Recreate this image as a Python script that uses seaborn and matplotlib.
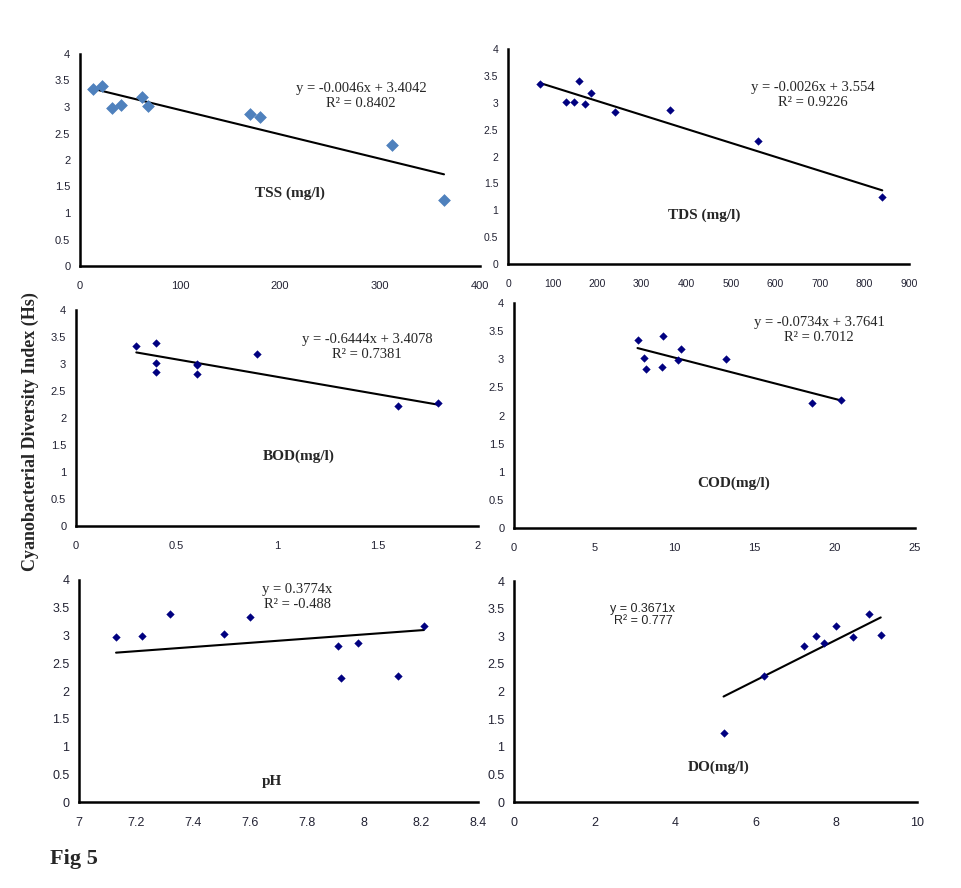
import pandas as pd
import matplotlib.pyplot as plt
from matplotlib.ticker import MultipleLocator, FuncFormatter
import seaborn as sns

# --------------------------------------------------------
# DATOS: indice de diversidad (Hs) vs parametros del agua
# --------------------------------------------------------
tss_x = [13, 22, 32, 41, 62, 68, 170, 180, 312, 364]
tss_y = [3.34, 3.40, 2.98, 3.03, 3.18, 3.01, 2.87, 2.81, 2.28, 1.25]
tds_x = [71, 130, 148, 159, 173, 187, 240, 363, 561, 840]
tds_y = [3.35, 3.02, 3.01, 3.40, 2.98, 3.19, 2.82, 2.87, 2.29, 1.25]
bod_x = [0.3, 0.4, 0.4, 0.4, 0.6, 0.6, 0.6, 0.9, 1.6, 1.8]
bod_y = [3.34, 3.39, 3.02, 2.86, 3.00, 2.98, 2.81, 3.18, 2.23, 2.27]
cod_x = [7.7, 8.1, 8.2, 9.2, 9.3, 10.2, 10.4, 13.2, 18.6, 20.4]
cod_y = [3.35, 3.03, 2.82, 2.87, 3.41, 2.99, 3.19, 3.01, 2.23, 2.28]
ph_x = [7.13, 7.22, 7.32, 7.51, 7.60, 7.91, 7.92, 7.98, 8.12, 8.21]
ph_y = [2.98, 3.00, 3.39, 3.02, 3.34, 2.81, 2.23, 2.86, 2.27, 3.18]
do_x = [5.2, 6.2, 7.2, 7.5, 7.7, 8.0, 8.4, 8.8, 9.1]
do_y = [1.24, 2.28, 2.82, 3.01, 2.88, 3.19, 2.99, 3.40, 3.03]

# Lineas de tendencia (pendiente, intercepto) y sus etiquetas
slopes = [-0.0046, -0.0026, -0.6444, -0.0734, 0.3774, 0.3671]
intercepts = [3.4042, 3.554, 3.4078, 3.7641, 0.0, 0.0]
equations = ['y = -0.0046x + 3.4042\nR² = 0.8402',
             'y = -0.0026x + 3.554\nR² = 0.9226',
             'y = -0.6444x + 3.4078\nR² = 0.7381',
             'y = -0.0734x + 3.7641\nR² = 0.7012',
             'y = 0.3774x\nR² = -0.488',
             'y = 0.3671x\nR² = 0.777']
labels = ['TSS (mg/l)', 'TDS (mg/l)', 'BOD(mg/l)', 'COD(mg/l)', 'pH', 'DO(mg/l)']
xs = [tss_x, tds_x, bod_x, cod_x, ph_x, do_x]
ys = [tss_y, tds_y, bod_y, cod_y, ph_y, do_y]

# --------------------------------------------------------
# LAYOUT (pixeles de la figura 961x888)
# --------------------------------------------------------
W, H = 961, 888
boxes = [(80, 54, 480, 266), (508, 49, 909, 264),
         (76, 310, 478, 526), (514, 303, 915, 528),
         (79, 580, 478, 802), (514, 581, 917, 802)]
x_lims = [(0, 400), (0, 900), (0, 2), (0, 25), (7, 8.4), (0, 10)]
x_major = [100, 100, 0.5, 5, 0.2, 2]
x_minor = [20, 25, 0.1, 1, 0.04, 0.4]
tick_size = [8, 7.5, 8, 8, 9, 9]
eq_pos = [(361, 96), (813, 95), (367, 347), (819, 330), (297, 597), (643, 615)]
lab_pos = [(290, 193), (704, 215), (299, 456), (734, 483), (272, 781), (719, 767)]

sns.set_style('white')
plt.rcParams['font.family'] = ['Liberation Sans', 'DejaVu Sans']
serif = ['Liberation Serif', 'DejaVu Serif']

fig = plt.figure(figsize=(W / 100, H / 100), dpi=100)
fmt = FuncFormatter(lambda v, p: f'{round(v, 4):g}')

for i in range(6):
    l, t, r, b = boxes[i]
    ax = fig.add_axes([l / W, 1 - b / H, (r - l) / W, (b - t) / H])
    df = pd.DataFrame({'x': xs[i], 'y': ys[i]})
    if i == 0:
        sns.scatterplot(data=df, x='x', y='y', ax=ax, marker='D', s=36,
                        color='#4F81BD', edgecolor='#4F81BD', zorder=3)
    else:
        sns.scatterplot(data=df, x='x', y='y', ax=ax, marker='D', s=15,
                        color='#000080', edgecolor='#000080', zorder=3)

    # linea de tendencia desde el minimo hasta el maximo de x
    tx = [min(xs[i]), max(xs[i])]
    ty = [slopes[i] * v + intercepts[i] for v in tx]
    sns.lineplot(x=tx, y=ty, ax=ax, color='black', linewidth=1.5, zorder=2)

    ax.set_xlim(*x_lims[i])
    ax.set_ylim(0, 4)
    ax.xaxis.set_major_locator(MultipleLocator(x_major[i]))
    ax.xaxis.set_minor_locator(MultipleLocator(x_minor[i]))
    ax.yaxis.set_major_locator(MultipleLocator(0.5))
    ax.yaxis.set_minor_locator(MultipleLocator(0.1))
    ax.xaxis.set_major_formatter(fmt)
    ax.yaxis.set_major_formatter(fmt)
    ax.tick_params(which='major', direction='inout', length=6, width=1.5,
                   labelsize=tick_size[i], labelcolor='#222233', pad=4)
    ax.tick_params(which='minor', direction='in', length=3, width=1)
    ax.tick_params(axis='x', which='major', pad=8)
    for s in ['top', 'right']:
        ax.spines[s].set_visible(False)
    for s in ['left', 'bottom']:
        ax.spines[s].set_color('black')
        ax.spines[s].set_linewidth(1.8)
    ax.set_xlabel('')
    ax.set_ylabel('')

    ex, ey = eq_pos[i]
    if i == 5:
        fig.text(ex / W, 1 - ey / H, equations[i], ha='center', va='center',
                 fontsize=9, linespacing=1.1)
    else:
        fig.text(ex / W, 1 - ey / H, equations[i], ha='center', va='center',
                 fontsize=10.5, family=serif, linespacing=1.15)
    lx, ly = lab_pos[i]
    fig.text(lx / W, 1 - ly / H, labels[i], ha='center', va='center',
             fontsize=11, fontweight='bold', family=serif)

fig.text(30 / W, 1 - 432 / H, 'Cyanobacterial Diversity Index (Hs)', rotation=90,
         ha='center', va='center', fontsize=13, fontweight='bold', family=serif)
fig.text(50 / W, 1 - 859 / H, 'Fig 5', ha='left', va='center',
         fontsize=16, fontweight='bold', family=serif)

fig.savefig('out.png', dpi=100, facecolor='white')
